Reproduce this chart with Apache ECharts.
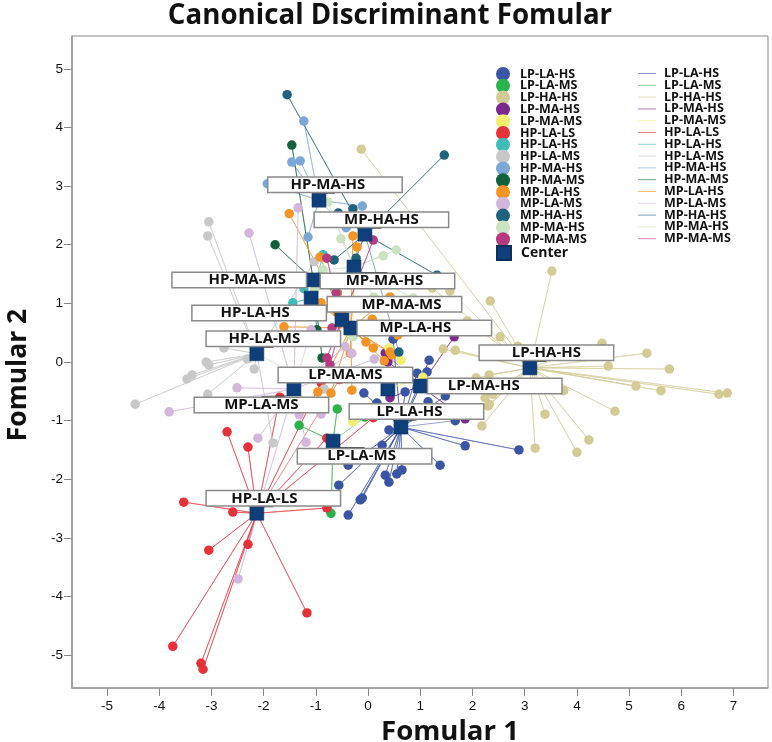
<!DOCTYPE html>
<html>
<head>
<meta charset="utf-8">
<style>html,body{margin:0;padding:0;background:#fff}#chart{width:772px;height:742px}</style>
<script src="https://cdn.jsdelivr.net/npm/echarts@6/dist/echarts.min.js"></script>
</head>
<body>
<div id="chart"></div>
<script>
// Discriminant scores for each group (function 1, function 2)
const lpLaHs = [[2.89,-1.50],[1.86,-1.43],[1.38,-1.76],[-0.08,-0.53],[0.94,-0.19],[1.48,-0.58],[1.15,-0.68],[0.40,-1.16],[0.27,-1.42],[-0.38,-1.76],[-0.56,-2.10],[0.33,-1.93],[0.55,-1.91],[0.65,-1.84],[0.40,-2.05],[-0.11,-2.32],[-0.15,-2.35],[-0.38,-2.61],[1.17,0.03],[1.13,-0.17],[0.17,-0.70],[0.48,0.39],[0.71,-0.51],[1.19,-0.82],[1.67,-1.0]];
const lpLaMs = [[-0.59,-0.80],[-1.32,-1.08],[-0.71,-2.58],[-0.06,-0.94]];
const lpHaHs = [[3.52,1.55],[2.34,1.04],[2.53,0.43],[1.90,0.70],[2.87,0.27],[4.48,0.32],[5.34,0.15],[4.60,-0.07],[5.77,-0.12],[5.13,-0.41],[5.61,-0.49],[6.72,-0.55],[6.88,-0.53],[3.75,-0.49],[4.73,-0.84],[3.39,-0.89],[4.23,-1.33],[4.0,-1.54],[3.2,-1.47],[2.18,-1.09],[2.32,-0.72],[2.24,-0.61],[2.39,-0.55],[2.32,-0.22],[2.07,-0.27],[1.67,0.20],[-0.13,3.63],[1.44,0.22],[2.30,-0.75],[1.23,1.26],[1.57,1.21]];
const lpMaHs = [[1.65,0.43],[0.42,-0.61],[1.86,-0.97],[0.38,0.0],[0.33,0.15]];
const lpMaMs = [[0.40,0.24],[0.63,0.03],[1.05,-0.26],[-0.29,-1.02]];
const hpLaLs = [[-2.70,-1.19],[-2.30,-1.45],[-3.53,-2.39],[-2.59,-2.56],[-3.05,-3.21],[-2.30,-3.11],[-1.17,-4.28],[-3.74,-4.85],[-3.20,-5.14],[-3.16,-5.24],[-0.79,-2.49],[-0.79,-1.30],[-1.69,-0.60],[0.10,-0.95],[-0.9,-0.35],[-0.55,-0.30]];
const hpLaHs = [[-1.23,1.25],[-1.44,1.01],[-0.86,1.83],[-0.95,0.45]];
const hpLaMs = [[-4.46,-0.72],[-3.47,-0.29],[-3.37,-0.22],[-3.10,0.0],[-3.05,-0.05],[-2.31,0.05],[-2.18,-0.12],[-3.07,-0.55],[-1.82,-1.38],[-2.76,0.24],[-3.05,2.39],[-3.07,2.15],[-1.03,1.71],[-0.84,-0.46]];
const hpMaHs = [[-1.23,4.11],[-1.46,3.41],[-1.30,3.43],[-1.93,3.04],[-0.11,2.66],[-1.15,2.13],[-0.42,2.29]];
const hpMaMs = [[-1.46,3.70],[-1.78,2.0],[-0.88,0.07],[-0.59,1.18],[-0.98,0.55]];
const mpLaHs = [[-1.51,2.53],[-0.92,1.79],[-0.29,2.15],[-0.21,1.96],[-1.61,0.60],[0.42,1.11],[0.08,0.73],[-0.04,0.34],[0.10,0.24],[0.31,0.02],[-0.31,-0.48],[-0.96,-0.51],[-0.71,-0.53],[-0.34,0.15],[-0.90,1.01],[-0.59,1.18],[0.57,0.46],[0.42,0.17],[-0.59,0.84],[-0.92,0.97],[0.46,0.12]];
const mpLaMs = [[-2.28,2.20],[-1.34,2.63],[-3.81,-0.85],[-2.51,-0.44],[-2.11,-1.30],[-1.19,-1.37],[-2.49,-3.70],[-1.32,-0.90],[-0.90,-0.89],[-0.44,0.26],[-0.31,0.15],[0.12,0.05],[-1.09,0.55]];
const mpHaHs = [[-1.55,4.56],[1.46,3.53],[-0.29,2.61],[-0.57,2.54],[-0.65,1.74],[-0.23,1.77],[1.32,1.48],[0.59,0.17]];
const mpMaHs = [[-0.77,2.73],[-0.52,2.10],[0.29,1.81],[0.54,1.91],[-0.86,1.57],[-1.02,1.23],[0.11,1.11],[0.86,1.09],[-0.29,0.43]];
const mpMaMs = [[0.10,2.08],[-0.79,1.77],[-0.69,0.58],[-0.79,0.07],[-0.73,-0.05],[-0.61,1.18]];

// Group centroids, in the same order as groupNames
const centroids = [[0.63,-1.11],[-0.67,-1.35],[3.10,-0.10],[1.0,-0.41],[0.38,-0.46],[-2.13,-2.58],[-1.09,1.09],[-2.13,0.14],[-0.94,2.76],[-1.05,1.40],[-0.33,0.58],[-1.42,-0.46],[-0.06,2.18],[-0.27,1.62],[-0.50,0.72]];

const groupNames = ['LP-LA-HS','LP-LA-MS','LP-HA-HS','LP-MA-HS','LP-MA-MS','HP-LA-LS','HP-LA-HS','HP-LA-MS','HP-MA-HS','HP-MA-MS','MP-LA-HS','MP-LA-MS','MP-HA-HS','MP-MA-HS','MP-MA-MS'];
const groupPoints = [lpLaHs,lpLaMs,lpHaHs,lpMaHs,lpMaMs,hpLaLs,hpLaHs,hpLaMs,hpMaHs,hpMaMs,mpLaHs,mpLaMs,mpHaHs,mpMaHs,mpMaMs];
const xTicks = [-5,-4,-3,-2,-1,0,1,2,3,4,5,6,7];
const yTicks = [-5,-4,-3,-2,-1,0,1,2,3,4,5];

const groupColors = ['#3b55a5','#2bb24c','#d2cb96','#7a2a8a','#f2ee6e','#e6303a','#3fbcb8','#c8c8c8','#7ba7d6','#12613a','#f39424','#d2b6dc','#1f627c','#cbe3c0','#b53a80'];
const centerColor = '#0e3f7a';
// Pixel offset of each centroid's name box from its marker, and of the name inside its box
const labelOffsets = [[15.5,-15.5],[31.5,15],[16.5,-15],[74.5,0],[-42.5,-14],[16.5,-15],[-52,15],[16.5,-15],[16,-15.5],[-74,0],[73.5,0],[-32.5,16],[16.5,-14.5],[33.5,14],[52.5,-15.5]];
const labelTextShifts = [-7,-3,0,-11,0,-9,-4,-9,-7,8,-9,0,0,-3,7];
const labelBoxWidth = 133;

const lineName = n => n + ' (link)';
const font = '"Open Sans", "Noto Sans", sans-serif';
const legendText = {fontFamily: font, fontWeight: 'bold', fontSize: 12.5, color: '#111'};

const series = [];
groupNames.forEach((name, i) => {
  // Star-shaped path: centroid -> point -> centroid -> next point
  series.push({
    type: 'line', name: lineName(name), z: 1, silent: true, symbol: 'none',
    data: groupPoints[i].flatMap(p => [centroids[i], p]),
    lineStyle: {color: groupColors[i], width: 0.8, opacity: 0.7},
    itemStyle: {color: groupColors[i]}
  });
});
groupNames.forEach((name, i) => {
  series.push({
    type: 'scatter', name, z: 2, symbol: 'circle', symbolSize: 9.5,
    data: groupPoints[i], itemStyle: {color: groupColors[i], opacity: 1}
  });
});
series.push({
  type: 'scatter', name: 'Center', z: 3, symbol: 'rect', symbolSize: 14,
  itemStyle: {color: centerColor, borderColor: '#0a2f5c', borderWidth: 0.5, opacity: 1},
  data: centroids.map((c, i) => {
    const shift = labelTextShifts[i] * 2;
    return {
      value: c, name: groupNames[i],
      label: {
        width: labelBoxWidth - Math.abs(shift),
        padding: [0, Math.max(-shift, 0), 0, Math.max(shift, 0)]
      }
    };
  }),
  label: {
    show: true, position: 'inside', formatter: '{b}',
    fontFamily: font, fontWeight: 'bold', fontSize: 15, color: '#111',
    backgroundColor: '#fff', borderColor: '#8a8a8a', borderWidth: 1.5,
    height: 14, lineHeight: 14, align: 'center', verticalAlign: 'middle'
  },
  labelLine: {show: true, lineStyle: {color: '#333', width: 1}},
  labelLayout: p => ({dx: labelOffsets[p.dataIndex][0], dy: labelOffsets[p.dataIndex][1]})
});

const axisCommon = {
  type: 'value', nameLocation: 'middle',
  axisLine: {show: true, onZero: false, lineStyle: {color: '#999', width: 1.5}},
  axisTick: {show: true, length: 8, lineStyle: {color: '#888', width: 1}},
  axisLabel: {fontFamily: '"Liberation Sans", Arial, sans-serif', fontSize: 13.5, color: '#111'},
  splitLine: {show: false}
};
const nameStyle = {fontFamily: font, fontWeight: 'bold', fontSize: 27.6, color: '#111'};

const chart = echarts.init(document.getElementById('chart'), null, {renderer: 'canvas'});
chart.setOption({
  animation: false,
  backgroundColor: '#fff',
  title: {
    text: 'Canonical Discriminant Fomular', left: 385, top: -3, textAlign: 'center',
    textStyle: {fontFamily: font, fontWeight: 'bold', fontSize: 27.7, color: '#111'}
  },
  grid: {left: 72, top: 36, right: 4, bottom: 54, outerBoundsMode: 'none', show: true, borderColor: '#888', borderWidth: 1, backgroundColor: '#fff'},
  xAxis: Object.assign({}, axisCommon, {
    min: -5.67, max: 7.66, name: 'Fomular 1', nameGap: 27,
    nameTextStyle: Object.assign({padding: [0, 0, 0, 60]}, nameStyle),
    axisTick: Object.assign({}, axisCommon.axisTick, {customValues: xTicks}),
    axisLabel: Object.assign({}, axisCommon.axisLabel, {customValues: xTicks, margin: 11})
  }),
  yAxis: Object.assign({}, axisCommon, {
    min: -5.56, max: 5.56, name: 'Fomular 2', nameGap: 40,
    nameTextStyle: Object.assign({padding: [0, 26, 0, 0]}, nameStyle, {fontSize: 26.5}),
    axisTick: Object.assign({}, axisCommon.axisTick, {customValues: yTicks}),
    axisLabel: Object.assign({}, axisCommon.axisLabel, {customValues: yTicks, margin: 9})
  }),
  legend: [
    {
      orient: 'vertical', left: 496, top: 67, padding: 0, itemWidth: 14, itemHeight: 14, itemGap: -2.2, selectedMode: false,
      data: groupNames.map(n => ({name: n, icon: 'circle'})),
      textStyle: Object.assign({padding: [0, 0, 0, 5]}, legendText)
    },
    {
      orient: 'vertical', left: 496, top: 245, padding: 0, itemWidth: 14, itemHeight: 14, selectedMode: false,
      data: [{name: 'Center', icon: 'rect'}],
      textStyle: Object.assign({padding: [0, 0, 0, 5]}, legendText, {fontSize: 14})
    },
    {
      orient: 'vertical', left: 638, top: 67, padding: 0, itemWidth: 18, itemHeight: 1, itemGap: -1.2, selectedMode: false,
      itemStyle: {opacity: 0.6},
      data: groupNames.map(n => ({name: lineName(n), icon: 'rect'})),
      formatter: n => n.replace(' (link)', ''),
      textStyle: Object.assign({padding: [0, 0, 0, 3]}, legendText)
    }
  ],
  series
});
</script>
</body>
</html>
